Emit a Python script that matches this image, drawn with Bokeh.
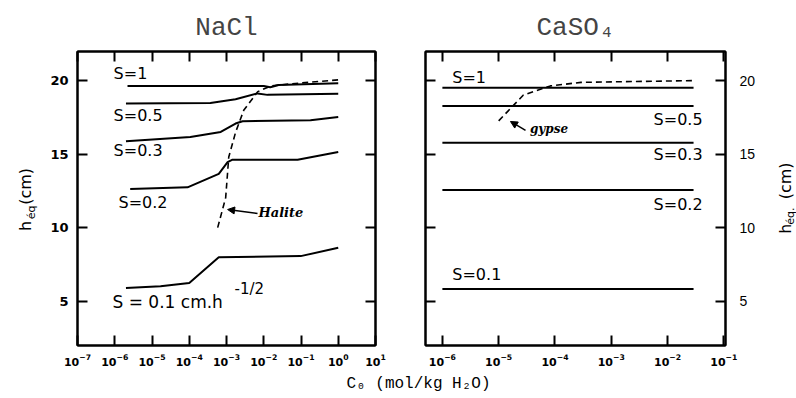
import math
from bokeh.plotting import figure
from bokeh.layouts import row, column
from bokeh.models import (LinearAxis, LogAxis, FixedTicker, CustomJSTickFormatter,
                          LogTickFormatter, Label, Arrow, NormalHead, Range1d, Title)
from bokeh.embed import file_html
from bokeh.resources import INLINE
from bokeh.core.properties import value

# ---------------- data ----------------
nacl_xticks = [1e-7, 1e-6, 1e-5, 1e-4, 1e-3, 1e-2, 1e-1, 1e0, 1e1]
caso4_xticks = [1e-6, 1e-5, 1e-4, 1e-3, 1e-2, 1e-1]
y_ticks = [5, 10, 15, 20]

# NaCl panel (C0 in mol/kg H2O, h_eq in cm)
nacl_s1_c = [2.2e-6, 1.0e-2, 1.5e-2, 2.5e-2, 1.0]
nacl_s1_h = [19.66, 19.66, 19.57, 19.72, 19.84]
nacl_s05_c = [2.0e-6, 3.7e-4, 1.75e-3, 6.8e-3, 1.26e-2, 1.0]
nacl_s05_h = [18.47, 18.50, 18.75, 19.15, 19.05, 19.12]
nacl_s03_c = [2.0e-6, 1.07e-4, 7.0e-4, 1.75e-3, 2.7e-3, 0.18, 1.0]
nacl_s03_h = [15.90, 16.19, 16.53, 17.10, 17.26, 17.33, 17.55]
nacl_s02_c = [2.6e-6, 9.0e-5, 6.2e-4, 1.07e-3, 1.45e-3, 8.1e-2, 1.0]
nacl_s02_h = [12.65, 12.76, 13.68, 14.47, 14.64, 14.64, 15.16]
nacl_s01_c = [2.0e-6, 1.7e-5, 1.0e-4, 6.2e-4, 9.8e-2, 1.0]
nacl_s01_h = [5.91, 6.03, 6.25, 8.01, 8.08, 8.65]
halite_c = [5.8e-4, 9.5e-4, 1.15e-3, 1.75e-3, 2.9e-3, 6.9e-3, 1.55e-2, 5.4e-2, 1.0]
halite_h = [10.02, 12.05, 14.82, 16.50, 18.00, 19.27, 19.66, 19.80, 20.07]

# CaSO4 panel
caso4_c = [1.0e-6, 2.9e-2]
caso4_s1_h = [19.54, 19.54]
caso4_s05_h = [18.29, 18.29]
caso4_s03_h = [15.80, 15.80]
caso4_s02_h = [12.58, 12.58]
caso4_s01_h = [5.84, 5.84]
gypse_c = [1.0e-5, 2.75e-5, 8.3e-5, 2.9e-4, 2.9e-2]
gypse_h = [17.28, 19.04, 19.66, 19.90, 20.02]

# ---------------- helpers ----------------
BLANK = "return ''"
H = 370


def style_axis(ax, ticks, show, font="DejaVu Sans", size="12px", fstyle="bold", standoff=8):
    ax.ticker = FixedTicker(ticks=ticks)
    ax.axis_line_color = "black"
    ax.axis_line_width = 2
    ax.major_tick_in = 10
    ax.major_tick_out = 0
    ax.major_tick_line_width = 2
    ax.major_tick_line_color = "black"
    ax.minor_tick_line_color = None
    if show:
        ax.major_label_text_font = font
        ax.major_label_text_font_size = size
        ax.major_label_text_font_style = fstyle
        ax.major_label_text_color = "black"
        ax.major_label_standoff = standoff
    else:
        ax.formatter = CustomJSTickFormatter(code=BLANK)
        ax.major_label_standoff = 0
        ax.major_label_text_font_size = "1px"


def make_panel(width, xr, xticks, title, bl, br, bt, bb, labels_left):
    p = figure(width=width, height=H, x_axis_type="log", x_range=Range1d(*xr),
               y_range=Range1d(2, 22), output_backend="svg", toolbar_location=None,
               x_axis_location=None, y_axis_location=None,
               min_border_left=bl, min_border_right=br, min_border_top=bt, min_border_bottom=bb)
    p.xgrid.grid_line_color = None
    p.ygrid.grid_line_color = None
    p.outline_line_color = "black"
    p.outline_line_width = 2
    p.background_fill_color = "white"
    p.border_fill_color = "white"

    bottom = LogAxis()
    style_axis(bottom, xticks, True, size="11px", standoff=8)
    bottom.formatter = LogTickFormatter()
    top = LogAxis()
    style_axis(top, xticks, False)
    yl = LinearAxis()
    yr = LinearAxis()
    if labels_left:
        style_axis(yl, y_ticks, True, size="13px", fstyle="bold", standoff=9)
        style_axis(yr, y_ticks, False)
    else:
        style_axis(yl, y_ticks, False)
        style_axis(yr, y_ticks, True, font="Liberation Sans", size="14px", fstyle="normal", standoff=14)
    p.add_layout(bottom, "below")
    p.add_layout(top, "above")
    p.add_layout(yl, "left")
    p.add_layout(yr, "right")
    p.title = Title(text=title, align="center", text_font="Liberation Mono",
                    text_font_size="26px", text_font_style="normal", standoff=18)
    p.title_location = "above"
    return p


def lbl(p, x, y, text, size="16px", font="DejaVu Sans", style="normal", align="left",
        baseline="middle"):
    p.add_layout(Label(x=x, y=y, text=text, text_font=font, text_font_size=size,
                       text_font_style=style, text_align=align, text_baseline=baseline,
                       text_color="black"))


def blank_fig(width, height):
    f = figure(width=width, height=height, x_range=Range1d(0, width), y_range=Range1d(0, height),
               output_backend="svg", toolbar_location=None,
               x_axis_location=None, y_axis_location=None, min_border=0)
    f.xgrid.grid_line_color = None
    f.ygrid.grid_line_color = None
    f.outline_line_color = None
    f.background_fill_color = "white"
    f.border_fill_color = "white"
    return f


def vtext(f, x, y, text, size):
    f.text(x=[x], y=[y], text=[text], angle=math.pi / 2, text_align="left",
           text_baseline="alphabetic", text_font=value("DejaVu Sans"),
           text_font_size=size, text_color="black")


# ---------------- left y label ----------------
ylab_left = blank_fig(40, H)
vtext(ylab_left, 25, H - 226, "h", "16px")
vtext(ylab_left, 31, H - 211, "éq", "11px")
vtext(ylab_left, 25, H - 193, "(cm)", "16px")

# ---------------- NaCl panel ----------------
left = make_panel(360, (1e-7, 1e1), nacl_xticks, "NaCl", 37, 25, 51, 25, True)
for c, h in [(nacl_s1_c, nacl_s1_h), (nacl_s05_c, nacl_s05_h), (nacl_s03_c, nacl_s03_h),
             (nacl_s02_c, nacl_s02_h), (nacl_s01_c, nacl_s01_h)]:
    left.line(c, h, line_color="black", line_width=2)
left.line(halite_c, halite_h, line_color="black", line_width=1.6, line_dash="6 4")

lbl(left, 9.3e-7, 20.5, "S=1")
lbl(left, 9.3e-7, 17.65, "S=0.5")
lbl(left, 9.3e-7, 15.27, "S=0.3")
lbl(left, 1.26e-6, 11.7, "S=0.2")
lbl(left, 8.7e-7, 4.93, "S = 0.1 cm.h", size="17px")
lbl(left, 1.64e-3, 5.85, "-1/2", size="15px")
lbl(left, 7.2e-3, 11.05, "Halite", size="13px", font="DejaVu Serif", style="bold italic")
left.add_layout(Arrow(end=NormalHead(size=7, fill_color="black", line_color="black"),
                      x_start=6.8e-3, y_start=10.98, x_end=1.07e-3, y_end=11.25,
                      line_color="black", line_width=1.5))

# ---------------- CaSO4 panel ----------------
right = make_panel(360, (10 ** -6.3, 10 ** -0.97), caso4_xticks, "CaSO₄", 25, 35, 51, 25, False)
for h in [caso4_s1_h, caso4_s05_h, caso4_s03_h, caso4_s02_h, caso4_s01_h]:
    right.line(caso4_c, h, line_color="black", line_width=2)
right.line(gypse_c, gypse_h, line_color="black", line_width=1.6, line_dash="6 4")

lbl(right, 1.5e-6, 20.23, "S=1")
lbl(right, 4.2e-2, 17.37, "S=0.5", align="right")
lbl(right, 4.2e-2, 15.0, "S=0.3", align="right")
lbl(right, 4.2e-2, 11.59, "S=0.2", align="right")
lbl(right, 1.5e-6, 6.83, "S=0.1")
lbl(right, 3.6e-5, 16.76, "gypse", size="12px", font="DejaVu Serif", style="bold italic")
right.add_layout(Arrow(end=NormalHead(size=7, fill_color="black", line_color="black"),
                       x_start=3.0e-5, y_start=16.63, x_end=1.62e-5, y_end=17.24,
                       line_color="black", line_width=1.5))

# ---------------- right y label ----------------
ylab_right = blank_fig(36, H)
vtext(ylab_right, 25, H - 229, "h", "15px")
vtext(ylab_right, 30, H - 218, "éq.", "11px")
vtext(ylab_right, 25, H - 186, "(cm)", "16px")

# ---------------- shared x label ----------------
strip = blank_fig(796, 28)
strip.text(x=[418], y=[15], text=["C₀ (mol/kg H₂O)"], text_align="center",
           text_baseline="middle", text_font=value("Liberation Mono"),
           text_font_size="16px", text_color="black")

layout = column(row(ylab_left, left, right, ylab_right, spacing=0), strip, spacing=0)
open("out.html", "w").write(file_html(layout, INLINE))
